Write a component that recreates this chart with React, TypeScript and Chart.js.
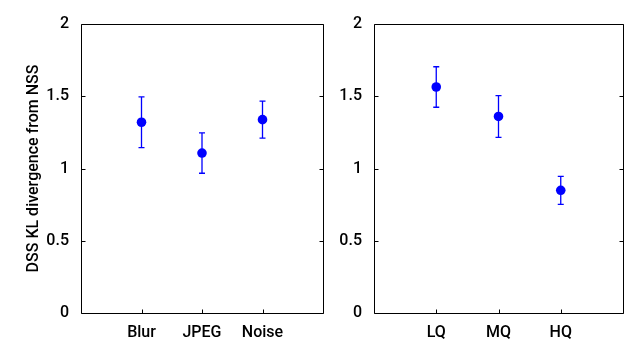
import React, { useEffect, useRef } from "react";
import { Chart, registerables } from "chart.js";

Chart.register(...registerables);

const leftCategories = ["Blur", "JPEG", "Noise"];
const leftMeans = [1.32, 1.107, 1.338];
const leftErrors = [0.175, 0.14, 0.128];

const rightCategories = ["LQ", "MQ", "HQ"];
const rightMeans = [1.564, 1.36, 0.849];
const rightErrors = [0.14, 0.144, 0.097];

const yTickValues = [0, 0.5, 1, 1.5, 2];
const yTitle = "DSS KL divergence from NSS";

const FONT = { family: "Roboto, 'Open Sans', sans-serif", size: 16, weight: 500 as any };

const framePlugin = {
  id: "frame",
  afterDatasetsDraw(chart: any) {
    const { ctx, scales } = chart;
    const errs: number[] = chart.options.plugins.frame.errors;
    const ds = chart.data.datasets[0];
    ctx.save();
    ctx.strokeStyle = "#0000ff";
    ctx.lineWidth = 1.3;
    ds.data.forEach((p: any, i: number) => {
      const x = scales.x.getPixelForValue(p.x);
      const yTop = scales.y.getPixelForValue(p.y + errs[i]);
      const yBot = scales.y.getPixelForValue(p.y - errs[i]);
      ctx.beginPath();
      ctx.moveTo(x, yTop);
      ctx.lineTo(x, yBot);
      ctx.moveTo(x - 3, yTop);
      ctx.lineTo(x + 3, yTop);
      ctx.moveTo(x - 3, yBot);
      ctx.lineTo(x + 3, yBot);
      ctx.stroke();
    });
    ctx.restore();
  },
  afterDraw(chart: any) {
    const { ctx, chartArea, scales } = chart;
    const { left, right, top, bottom } = chartArea;
    ctx.save();
    ctx.strokeStyle = "#000";
    ctx.lineWidth = 1;
    const L = Math.round(left) + 0.5;
    const R = Math.round(right) + 0.5;
    const T = Math.round(top) + 0.5;
    const B = Math.round(bottom) + 0.5;
    ctx.beginPath();
    ctx.rect(L, T, R - L, B - T);
    ctx.stroke();
    ctx.beginPath();
    scales.y.ticks.forEach((t: any) => {
      const y = Math.round(scales.y.getPixelForValue(t.value)) + 0.5;
      ctx.moveTo(L, y);
      ctx.lineTo(L + 4, y);
      ctx.moveTo(R, y);
      ctx.lineTo(R - 4, y);
    });
    scales.x.ticks.forEach((t: any) => {
      const x = Math.round(scales.x.getPixelForValue(t.value)) + 0.5;
      ctx.moveTo(x, B);
      ctx.lineTo(x, B - 4);
    });
    ctx.stroke();
    ctx.restore();
  },
};

function Panel(props: {
  categories: string[];
  means: number[];
  errors: number[];
  width: number;
  yAxisWidth: number;
  rightPad: number;
  title?: string;
}) {
  const ref = useRef<HTMLCanvasElement>(null);
  useEffect(() => {
    const { categories, means, errors, yAxisWidth, rightPad, title } = props;
    const chart = new Chart(ref.current!, {
      type: "scatter",
      data: {
        datasets: [
          {
            data: means.map((m, i) => ({ x: i + 1, y: m })),
            pointRadius: 4.8,
            pointHoverRadius: 4.8,
            backgroundColor: "#0000ff",
            borderColor: "#0000ff",
            borderWidth: 0,
            showLine: false,
          },
        ],
      },
      options: {
        responsive: false,
        animation: false,
        events: [],
        layout: { padding: { top: 24, right: rightPad, left: 0, bottom: 0 } },
        plugins: {
          legend: { display: false },
          tooltip: { enabled: false },
          frame: { errors },
        } as any,
        scales: {
          x: {
            type: "linear",
            min: 0,
            max: 4,
            grid: { display: false },
            border: { display: false },
            afterBuildTicks: (s: any) => {
              s.ticks = categories.map((_, i) => ({ value: i + 1 }));
            },
            afterFit: (s: any) => {
              s.height = 30;
            },
            ticks: {
              autoSkip: false,
              maxRotation: 0,
              padding: 2,
              color: "#000",
              font: FONT,
              callback: (v: any) => categories[Number(v) - 1] ?? "",
            },
          },
          y: {
            min: 0,
            max: 2,
            grid: { display: false },
            border: { display: false },
            afterBuildTicks: (s: any) => {
              s.ticks = yTickValues.map((v) => ({ value: v }));
            },
            afterFit: (s: any) => {
              s.width = yAxisWidth;
            },
            ticks: {
              padding: 4,
              color: "#000",
              font: FONT,
              callback: (v: any) => String(v),
            },
            title: {
              display: !!title,
              text: title || "",
              color: "#000",
              font: FONT,
              padding: { top: 24, bottom: 0 },
            },
          },
        },
      },
      plugins: [framePlugin],
    });
    return () => chart.destroy();
  }, []);
  return <canvas ref={ref} width={props.width} height={343} style={{ display: "block", width: props.width, height: 343 }} />;
}

export default function App() {
  return (
    <div style={{ position: "absolute", left: 0, top: 0, width: 635, height: 343, background: "#fff", display: "flex" }}>
      <Panel categories={leftCategories} means={leftMeans} errors={leftErrors} width={330} yAxisWidth={81} rightPad={7} title={yTitle} />
      <Panel categories={rightCategories} means={rightMeans} errors={rightErrors} width={305} yAxisWidth={44} rightPad={12} />
    </div>
  );
}
